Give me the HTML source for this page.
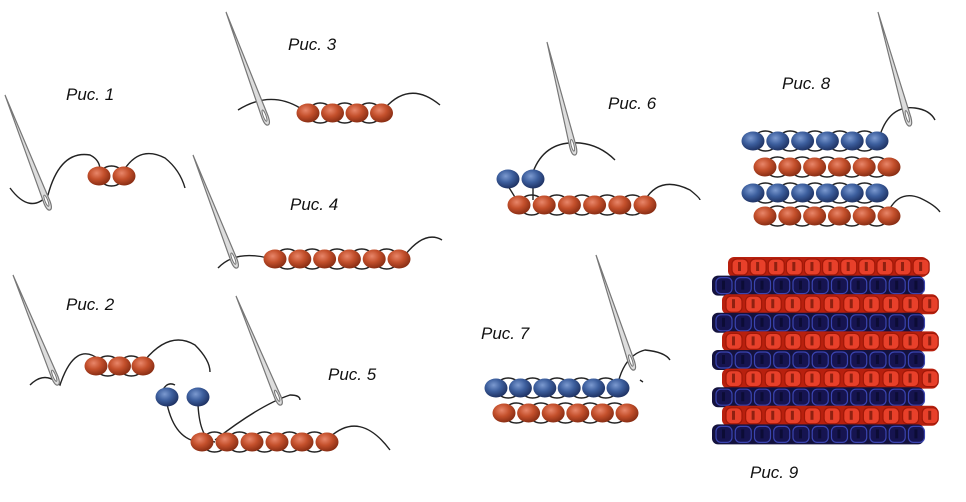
<!DOCTYPE html>
<html><head><meta charset="utf-8"><style>
html,body{margin:0;padding:0;background:#fff;width:966px;height:502px;overflow:hidden}
svg{display:block}
text{font-family:"Liberation Sans","DejaVu Sans",sans-serif;font-style:italic;font-size:17px;fill:#111}
</style></head><body>
<svg id="s" width="966" height="502" viewBox="0 0 966 502" xmlns="http://www.w3.org/2000/svg">
<defs>
<radialGradient id="r" cx="40%" cy="35%" r="65%"><stop offset="0" stop-color="#e8866a"/><stop offset=".5" stop-color="#c4502c"/><stop offset="1" stop-color="#8a2e14"/></radialGradient>
<radialGradient id="b" cx="40%" cy="35%" r="65%"><stop offset="0" stop-color="#7c9ad0"/><stop offset=".5" stop-color="#3d5f9e"/><stop offset="1" stop-color="#1f3364"/></radialGradient>
</defs>
<g fill="none" stroke="#222" stroke-width="1.4" id="th">
<path d="M10,188 Q30,215 48,195 Q60,150 90,155 Q100,160 100,170"/>
<path d="M124,170 Q140,145 165,158 Q180,170 185,188"/>
<path d="M238,110 Q270,90 300,108"/><path d="M385,108 Q410,80 440,105"/>
<path d="M218,268 Q235,250 268,258"/><path d="M405,255 Q425,230 442,240"/>
<path d="M30,385 Q45,370 60,385 Q75,340 100,360"/><path d="M145,360 Q170,330 195,345 Q210,360 210,372"/>
<path d="M160,397 Q165,380 175,385 M167,404 Q175,440 200,442 M198,405 Q200,440 215,442 M215,440 Q260,405 290,395 Q300,395 300,400"/>
<path d="M330,437 Q360,410 390,450"/>
<path d="M508,186 Q520,205 519,205 M533,186 L533,200 M533,172 Q545,140 580,143 Q600,145 615,160"/>
<path d="M645,200 Q660,175 690,190 Q700,198 700,200"/>
<path d="M618,383 Q625,355 645,350 Q665,352 670,360 M640,380 L643,382"/>
<path d="M880,135 Q890,105 915,108 Q930,110 935,120"/>
<path d="M889,210 Q900,190 920,198 Q935,205 940,212"/>
</g>
<g id="ne"></g>
<g id="bd"></g>
<g id="sw"></g>
<text x="66" y="100">Рис. 1</text>
<text x="288" y="50">Рис. 3</text>
<text x="290" y="210">Рис. 4</text>
<text x="66" y="310">Рис. 2</text>
<text x="328" y="380">Рис. 5</text>
<text x="608" y="109">Рис. 6</text>
<text x="782" y="89">Рис. 8</text>
<text x="481" y="339">Рис. 7</text>
<text x="750" y="478">Рис. 9</text>
</svg>
<script>
var NS="http://www.w3.org/2000/svg";
function el(p,t,a){var e=document.createElementNS(NS,t);for(var k in a)e.setAttribute(k,a[k]);document.getElementById(p).appendChild(e);return e;}
function needle(x1,y1,x2,y2){var dx=x2-x1,dy=y2-y1,L=Math.hypot(dx,dy),a=Math.atan2(dy,dx)*180/Math.PI;
var g=el('ne','g',{transform:'translate('+x1+','+y1+') rotate('+a+')'});
var p=document.createElementNS(NS,'path');p.setAttribute('d','M0,0 L'+(L-8)+',-3.2 Q'+L+',-3 '+L+',0 Q'+L+',3 '+(L-8)+',3.2 Z');p.setAttribute('fill','#ddd');p.setAttribute('stroke','#777');p.setAttribute('stroke-width','1.2');g.appendChild(p);
var e=document.createElementNS(NS,'ellipse');e.setAttribute('cx',L-10);e.setAttribute('cy',0);e.setAttribute('rx',6);e.setAttribute('ry',1.4);e.setAttribute('fill','#fff');e.setAttribute('stroke','#777');g.appendChild(e);}
needle(5,95,50,210);needle(226,12,268,125);needle(193,155,237,268);needle(13,275,58,385);needle(236,296,281,405);needle(547,42,575,155);needle(596,255,634,370);needle(878,12,910,126);
function row(xs,y,c,loops){xs.forEach(function(x,i){if(loops&&i<xs.length-1){var m=(x+xs[i+1])/2;el('th','ellipse',{cx:m,cy:y,rx:12,ry:10});}});
xs.forEach(function(x){el('bd','ellipse',{cx:x,cy:y,rx:11.5,ry:9.5,fill:'url(#'+c+')'});});}
function seq(x0,dx,n){var a=[];for(var i=0;i<n;i++)a.push(x0+dx*i);return a;}
row([99,124],176,'r',1);
row(seq(308,24.5,4),113,'r',1);
row(seq(275,24.8,6),259,'r',1);
row(seq(96,23.5,3),366,'r',1);
row([167,198],397,'b',0);
row(seq(202,25,6),442,'r',1);
row([508,533],179,'b',0);
row(seq(519,25.2,6),205,'r',1);
row(seq(496,24.4,6),388,'b',1);
row(seq(504,24.6,6),413,'r',1);
row(seq(753,24.8,6),141,'b',1);row(seq(765,24.8,6),167,'r',1);
row(seq(753,24.8,6),193,'b',1);row(seq(765,24.8,6),216,'r',1);
for(var r=0;r<10;r++){var y=257+r*18.6,red=r%2==0,x0=red?(r==0?728:722):712;var w=(r==0?200:(red?216:212));
el('sw','rect',{x:x0,y:y,width:w,height:20,rx:6,fill:red?'#b8200e':'#14123e'});
for(var k=0;k<11;k++){var cx=x0+4+k*((w-8)/10.6);
el('sw','rect',{x:cx,y:y+2,width:16,height:16,rx:5,fill:red?'#e8402a':'#161450',stroke:red?'#a01808':'#3a44b0','stroke-width':1.2});
el('sw','rect',{x:cx+6,y:y+5,width:3,height:9,fill:red?'#6a1206':'#08082a',opacity:.7});}}
</script>
</body></html>
